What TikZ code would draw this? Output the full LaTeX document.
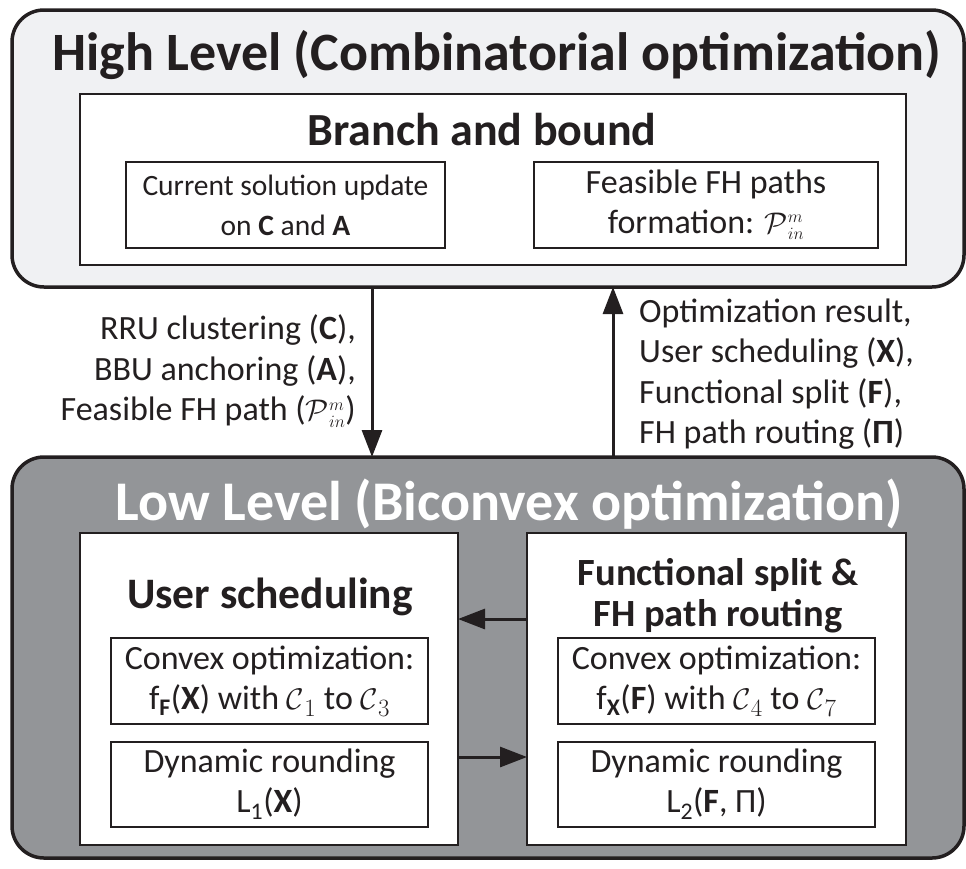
\documentclass[tikz,border=0pt]{standalone}
\usepackage{fontspec}
\setmainfont{Carlito}
\usetikzlibrary{arrows.meta}
\definecolor{ink}{HTML}{231F20}
\definecolor{hifill}{HTML}{F0F1F3}
\definecolor{lofill}{HTML}{939598}
\newcommand{\Pin}{$\scalebox{1.2}{$\mathcal{P}$}^{\scriptscriptstyle m}_{\scriptscriptstyle in}$}
\newcommand{\Cn}[1]{$\scalebox{1.2}{$\mathcal{C}$}_{#1}$}
\begin{document}
\begin{tikzpicture}[x=1pt,y=-1pt,
  outerbox/.style={draw=ink, line width=3.5pt, rounded corners=32pt, inner sep=0pt, outer sep=0pt},
  wbox/.style={draw=ink, fill=white, line width=2pt, inner sep=0pt, outer sep=0pt},
  sbox/.style={draw=ink, fill=white, line width=1.8pt, inner sep=0pt, outer sep=0pt, align=center, font=\fontsize{34}{40}\selectfont, text=ink},
  lbl/.style={font=\fontsize{34}{40.5}\selectfont, text=ink, inner sep=0pt},
  ttl/.style={font=\bfseries\fontsize{54}{60}\selectfont, inner sep=0pt},
  sttl/.style={font=\bfseries\fontsize{43.5}{48}\selectfont, text=ink, inner sep=0pt, align=center},
  arr/.style={draw=ink, line width=3pt, -{Triangle[length=27pt,width=20pt]}},
]
\useasboundingbox (0,0) rectangle (966,868);

% High level
\node[outerbox, fill=hifill, minimum width=952pt, minimum height=277pt] (high) at (488,148.5) {};
\node[ttl, text=ink] (hightitle) at (497,55) {High Level (Combinatorial optimization)};
\node[wbox, minimum width=826pt, minimum height=171pt] (bnb) at (493,179.5) {};
\node[sttl, font=\bfseries\fontsize{46}{50}\selectfont] (bnbtitle) at (482,130) {Branch and bound};
\node[sbox, font=\fontsize{29.5}{40}\selectfont, minimum width=319pt, minimum height=86pt] (cur) at (285.5,205) {Current solution update\\on \textbf{C} and \textbf{A}};
\node[sbox, minimum width=344pt, minimum height=86pt] (feas) at (706,205) {Feasible FH paths\\formation: \Pin};

% Low level
\node[outerbox, fill=lofill, minimum width=952pt, minimum height=401pt] (low) at (488,657.5) {};
\node[ttl, font=\bfseries\fontsize{56}{60}\selectfont, text=white] (lowtitle) at (509,504) {Low Level (Biconvex optimization)};
\node[wbox, minimum width=378pt, minimum height=312pt] (us) at (269,689) {};
\node[wbox, minimum width=379pt, minimum height=312pt] (fs) at (716.5,689) {};
\node[sttl] (ustitle) at (270,597) {User scheduling};
\node[sttl, font=\bfseries\fontsize{38.5}{41}\selectfont] (fstitle) at (718,596) {Functional split \&\\FH path routing};
\node[sbox, minimum width=317pt, minimum height=86pt] (cvl) at (269.5,681) {Convex optimization:\\f\textsubscript{\textbf{F}}(\textbf{X}) with \Cn{1} to \Cn{3}};
\node[sbox, minimum width=317pt, minimum height=85pt] (dyl) at (269.5,784.5) {Dynamic rounding\\L\textsubscript{1}(\textbf{X})};
\node[sbox, minimum width=317pt, minimum height=86pt] (cvr) at (716.5,681) {Convex optimization:\\f\textsubscript{\textbf{X}}(\textbf{F}) with \Cn{4} to \Cn{7}};
\node[sbox, minimum width=317pt, minimum height=85pt] (dyr) at (716.5,784.5) {Dynamic rounding\\L\textsubscript{2}(\textbf{F}, Π)};

% vertical arrows
\coordinate (dx) at (372,0);
\coordinate (ux) at (613,0);
\draw[arr] (high.south -| dx) -- (low.north -| dx);
\draw[arr] (low.north -| ux) -- (high.south -| ux);
\node[lbl, anchor=east, align=right] (downlbl) at (356,371) {RRU clustering (\textbf{C}),\\BBU anchoring (\textbf{A}),\\Feasible FH path (\Pin)};
\node[lbl, anchor=west, align=left] (uplbl) at (639,374) {Optimization result,\\User scheduling (\textbf{X}),\\Functional split (\textbf{F}),\\FH path routing (\textbf{Π})};

% horizontal arrows
\coordinate (ya) at (0,619);
\coordinate (yb) at (0,757);
\draw[arr] (fs.west |- ya) -- (us.east |- ya);
\draw[arr] (us.east |- yb) -- (fs.west |- yb);
\end{tikzpicture}
\end{document}
